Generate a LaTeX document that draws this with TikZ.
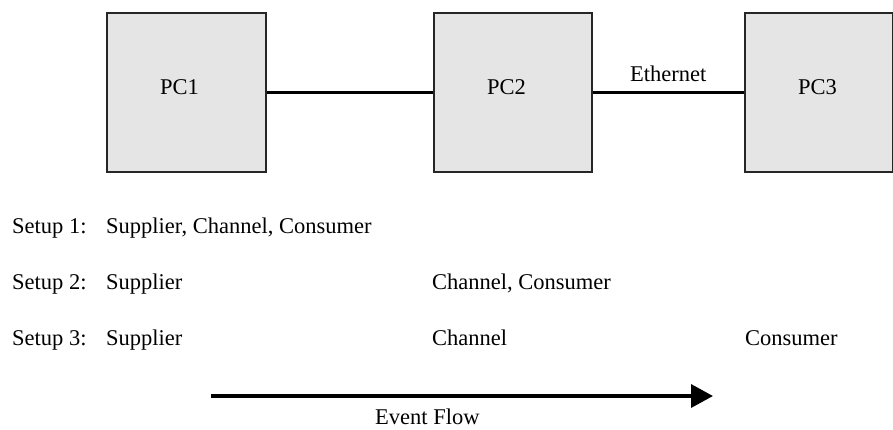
\documentclass[tikz,border=0pt]{standalone}
\usepackage{fontspec}
\setmainfont{Liberation Serif}
\usetikzlibrary{arrows.meta}
\begin{document}
\begin{tikzpicture}[x=1bp,y=-1bp,
  pcbox/.style={draw=black!85, line width=1.5bp, fill=black!10, minimum height=159bp, inner sep=0pt, anchor=north west},
  lbl/.style={inner sep=0pt, anchor=base west, font=\fontsize{22.5bp}{27bp}\selectfont},
  link/.style={line width=3bp},
  flow/.style={line width=3.5bp, -{Triangle[length=22bp,width=23bp]}}]
  \useasboundingbox (0,0) rectangle (893,429);

  % computers
  \node[pcbox, minimum width=159bp] (pc1) at (106,12) {};
  \node[pcbox, minimum width=158bp] (pc2) at (433,12) {};
  \node[pcbox, minimum width=148bp] (pc3) at (744,12) {};
  \node[lbl] (pc1t) at (160,94) {PC1};
  \node[lbl] (pc2t) at (487,94) {PC2};
  \node[lbl] (pc3t) at (798,94) {PC3};

  % network links
  \draw[link] (pc1.east) -- (pc2.west);
  \draw[link] (pc2.east) -- node[above=9bp, inner sep=0pt, font=\fontsize{22.5bp}{27bp}\selectfont] (eth) {Ethernet} (pc3.west);

  % setups
  \node[lbl] (s1) at (12,233) {Setup 1:};
  \node[lbl] (s1a) at (106,233) {Supplier, Channel, Consumer};
  \node[lbl] (s2) at (12,289) {Setup 2:};
  \node[lbl] (s2a) at (106,289) {Supplier};
  \node[lbl] (s2b) at (432,289) {Channel, Consumer};
  \node[lbl] (s3) at (12,345) {Setup 3:};
  \node[lbl] (s3a) at (106,345) {Supplier};
  \node[lbl] (s3b) at (432,345) {Channel};
  \node[lbl] (s3c) at (745,345) {Consumer};

  % event flow arrow
  \coordinate (fs) at (211,396);
  \coordinate (fe) at (713,396);
  \draw[flow] (fs) -- (fe);
  \node[lbl] (ef) at (375,424) {Event Flow};
\end{tikzpicture}
\end{document}
